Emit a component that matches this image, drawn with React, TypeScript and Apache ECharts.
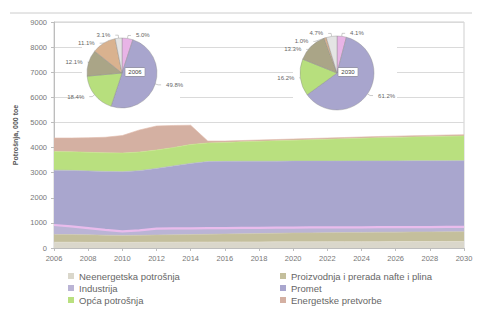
import React, { useEffect, useRef } from 'react';
import * as echarts from 'echarts';

const years = ['2006','2007','2008','2009','2010','2011','2012','2013','2014','2015','2016','2017','2018','2019','2020','2021','2022','2023','2024','2025','2026','2027','2028','2029','2030'];

const neenergetska = [230,230,225,225,220,225,230,230,235,235,240,240,240,245,245,245,250,250,250,252,255,255,258,260,260];
const proizvodnja = [310,305,300,285,280,280,285,295,300,310,315,325,335,340,350,355,360,365,370,373,375,380,382,385,390];
const industrija = [375,325,265,210,160,195,260,255,250,245,240,235,230,225,220,218,210,207,205,203,200,197,195,193,190];
const promet = [2185,2230,2280,2330,2380,2380,2395,2490,2585,2650,2655,2655,2650,2645,2645,2642,2640,2640,2640,2637,2638,2638,2635,2634,2635];
const opca = [740,740,740,740,740,740,730,730,750,740,750,775,795,815,830,850,870,888,905,925,937,950,965,978,985];
const energetske = [540,550,580,620,700,880,960,880,770,80,60,50,50,50,50,50,50,50,50,50,50,50,50,50,50];

const pieNames = ['Industrija','Promet','Opća potrošnja','Proizvodnja i prerada nafte i plina','Energetske pretvorbe','Neenergetska potrošnja'];
const pie2006 = [5.0, 49.8, 18.4, 12.1, 11.1, 3.1];
const pie2030 = [4.1, 61.2, 16.2, 13.3, 1.0, 4.7];

const legendLeftCol = ['Neenergetska potrošnja', 'Industrija', 'Opća potrošnja'];
const legendRightCol = ['Proizvodnja i prerada nafte i plina', 'Promet', 'Energetske pretvorbe'];

const areaColors: Record<string, string> = {
  'Neenergetska potrošnja': '#dad7cb',
  'Proizvodnja i prerada nafte i plina': '#c4bf9c',
  'Industrija': '#bab4d5',
  'Promet': '#a9a6ce',
  'Opća potrošnja': '#b9e07f',
  'Energetske pretvorbe': '#d4b0a2',
};
const pieColors: Record<string, string> = {
  'Industrija': '#e8b4e6',
  'Promet': '#a8a5cd',
  'Opća potrošnja': '#b7df7d',
  'Proizvodnja i prerada nafte i plina': '#aaa587',
  'Energetske pretvorbe': '#d9b28f',
  'Neenergetska potrošnja': '#e4e4e4',
};

const FONT = '"Liberation Sans", Arial, sans-serif';

export default function App() {
  const ref = useRef<HTMLDivElement>(null);
  useEffect(() => {
    if (!ref.current) return;
    const chart = echarts.init(ref.current, undefined, { renderer: 'svg' });
    const stackSeries = [
      ['Neenergetska potrošnja', neenergetska],
      ['Proizvodnja i prerada nafte i plina', proizvodnja],
      ['Industrija', industrija],
      ['Promet', promet],
      ['Opća potrošnja', opca],
      ['Energetske pretvorbe', energetske],
    ].map(([name, data]: any) => ({
      type: 'line',
      name,
      stack: 'total',
      data,
      symbol: 'none',
      z: 2,
      itemStyle: { color: areaColors[name] },
      lineStyle: name === 'Industrija'
        ? { color: '#e9bcec', width: 2.2 }
        : { color: echarts.color.lift(areaColors[name], -0.06) as string, width: 0.6 },
      areaStyle: { color: areaColors[name], opacity: 1 },
    }));

    const makePie = (vals: number[], center: [number, number], radius: number) => ({
      type: 'pie',
      center,
      radius,
      z: 5,
      startAngle: 90,
      clockwise: true,
      silent: true,
      data: pieNames.map((n, i) => ({ name: n, value: vals[i], itemStyle: { color: pieColors[n] } })),
      itemStyle: { borderColor: '#8a8a8a', borderWidth: 0.4 },
      label: {
        show: true,
        position: 'outside',
        formatter: (p: any) => Number(p.value).toFixed(1) + '%',
        fontSize: 6,
        color: '#666',
        fontFamily: FONT,
      },
      labelLine: { show: true, length: 3, length2: 3, lineStyle: { color: '#999', width: 0.5 } },
    });

    const mkLegend = (name: string, left: number, top: number) => ({
      orient: 'horizontal',
      icon: 'rect',
      itemWidth: 6,
      itemHeight: 6,
      itemGap: 4,
      left,
      top,
      padding: 0,
      selectedMode: false,
      data: [name],
      textStyle: { fontSize: 9.5, color: '#666', fontFamily: FONT },
    });
    const rowTops = [271, 283, 295];
    const legends = [
      ...legendLeftCol.map((n, i) => mkLegend(n, 68, rowTops[i])),
      ...legendRightCol.map((n, i) => mkLegend(n, 280, rowTops[i])),
    ];

    chart.setOption({
      animation: false,
      textStyle: { fontFamily: FONT },
      grid: { left: 54, right: 13, top: 22, bottom: 61, show: true, borderColor: '#cfcfcf', borderWidth: 1 },
      legend: legends,
      xAxis: {
        type: 'category',
        data: years,
        boundaryGap: false,
        axisLine: { lineStyle: { color: '#bdbdbd' } },
        axisTick: { interval: 1, length: 3, lineStyle: { color: '#bdbdbd' } },
        axisLabel: { interval: 1, fontSize: 7.5, color: '#777', margin: 6 },
        splitLine: { show: false },
      },
      yAxis: {
        type: 'value',
        min: 0,
        max: 9000,
        interval: 1000,
        name: 'Potrošnja, 000 toe',
        nameLocation: 'middle',
        nameGap: 31,
        nameTextStyle: { fontSize: 7, fontWeight: 'bold', color: '#555' },
        axisLine: { show: true, lineStyle: { color: '#bdbdbd' } },
        axisTick: { show: true, length: 3, lineStyle: { color: '#bdbdbd' } },
        axisLabel: { fontSize: 7.5, color: '#777', margin: 7, formatter: (v: number) => String(v) },
        splitLine: { lineStyle: { color: '#dadada', width: 1 } },
      },
      graphic: [
        { type: 'line', shape: { x1: 10, y1: 13, x2: 472, y2: 13 }, style: { stroke: '#cccccc', lineWidth: 1 }, z: 1 },
        { type: 'rect', shape: { x: 82, y: 25, width: 98, height: 95 }, style: { fill: '#ffffff' }, z: 1 },
        { type: 'rect', shape: { x: 293, y: 25, width: 104, height: 95 }, style: { fill: '#ffffff' }, z: 1 },
        { type: 'text', x: 135, y: 72, z: 20, style: { text: '2006', fontSize: 6, fill: '#444', fontFamily: FONT, align: 'center', verticalAlign: 'middle', backgroundColor: '#ffffff', borderColor: '#888', borderWidth: 0.5, padding: [1, 3] } },
        { type: 'text', x: 348, y: 72, z: 20, style: { text: '2030', fontSize: 6, fill: '#444', fontFamily: FONT, align: 'center', verticalAlign: 'middle', backgroundColor: '#ffffff', borderColor: '#888', borderWidth: 0.5, padding: [1, 3] } },
      ],
      series: [
        ...stackSeries,
        makePie(pie2006, [122, 73], 35),
        makePie(pie2030, [337, 73], 37),
      ],
    } as any);
    return () => chart.dispose();
  }, []);
  return <div ref={ref} style={{ position: 'fixed', left: 0, top: 0, width: 477, height: 309, background: '#fff' }} />;
}
